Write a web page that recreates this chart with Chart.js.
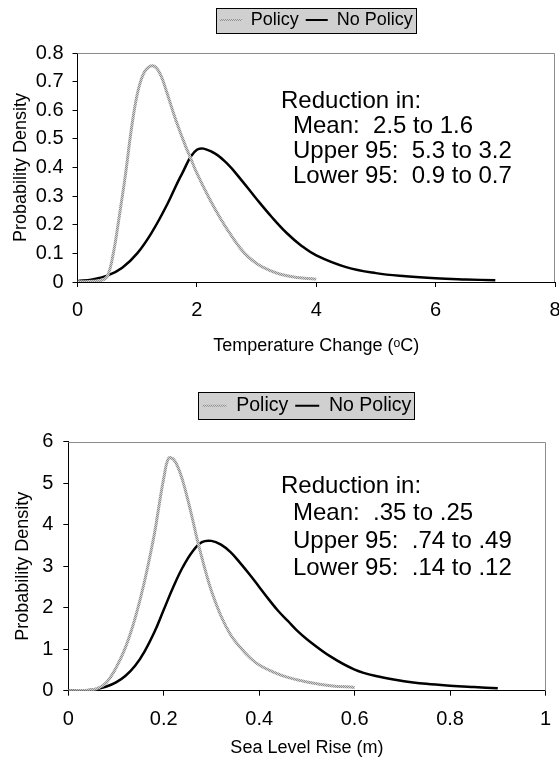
<!DOCTYPE html>
<html>
<head>
<meta charset="utf-8">
<script src="https://cdn.jsdelivr.net/npm/chart.js@4.4.1/dist/chart.umd.min.js"></script>
<style>
  html, body { margin: 0; padding: 0; background: #fff; }
  .wrap { position: relative; width: 559px; }
  #wrap-temp { height: 380px; }
  #wrap-sea { height: 383px; }
</style>
</head>
<body>
<div class="wrap" id="wrap-temp"><canvas id="chart-temp"></canvas></div>
<div class="wrap" id="wrap-sea"><canvas id="chart-sea"></canvas></div>
<script>
// Temperature change (top chart)
const tempPolicyX = [0, 0.2, 0.4, 0.5, 0.6, 0.7, 0.8, 0.9, 1.0, 1.1, 1.2, 1.3, 1.4, 1.5, 1.6, 1.7, 1.8, 1.9, 2.0, 2.2, 2.4, 2.6, 2.8, 3.0, 3.2, 3.4, 3.6, 3.8, 4.0];
const tempPolicyY = [0.001, 0.002, 0.006, 0.02, 0.1, 0.23, 0.37, 0.53, 0.655, 0.725, 0.752, 0.752, 0.72, 0.66, 0.595, 0.535, 0.48, 0.43, 0.38, 0.295, 0.22, 0.155, 0.1, 0.065, 0.042, 0.027, 0.018, 0.013, 0.01];
const tempNoPolicyX = [0, 0.25, 0.5, 0.75, 1.0, 1.25, 1.5, 1.75, 2.0, 2.25, 2.5, 2.75, 3.0, 3.25, 3.5, 3.75, 4.0, 4.5, 5.0, 5.5, 6.0, 6.5, 7.0];
const tempNoPolicyY = [0.003, 0.009, 0.022, 0.05, 0.1, 0.175, 0.27, 0.378, 0.462, 0.455, 0.415, 0.355, 0.29, 0.228, 0.172, 0.127, 0.093, 0.052, 0.031, 0.02, 0.013, 0.009, 0.006];
const tempXTicks = [0, 2, 4, 6, 8];
const tempXLabels = ['0', '2', '4', '6', '8'];
const tempYTicks = [0, 0.1, 0.2, 0.3, 0.4, 0.5, 0.6, 0.7, 0.8];
const tempYLabels = ['0', '0.1', '0.2', '0.3', '0.4', '0.5', '0.6', '0.7', '0.8'];
const tempNotes = ['Reduction in:', 'Mean:  2.5 to 1.6', 'Upper 95:  5.3 to 3.2', 'Lower 95:  0.9 to 0.7'];

// Sea level rise (bottom chart)
const seaPolicyX = [0, 0.02, 0.04, 0.06, 0.08, 0.1, 0.12, 0.14, 0.16, 0.18, 0.19, 0.2, 0.21, 0.22, 0.23, 0.24, 0.25, 0.26, 0.27, 0.28, 0.29, 0.3, 0.32, 0.34, 0.36, 0.38, 0.4, 0.43, 0.46, 0.5, 0.55, 0.6];
const seaPolicyY = [0, 0.003, 0.01, 0.05, 0.2, 0.55, 1.05, 1.75, 2.65, 3.75, 4.45, 5.12, 5.6, 5.58, 5.38, 5.05, 4.62, 4.15, 3.65, 3.2, 2.78, 2.4, 1.8, 1.35, 1.05, 0.8, 0.62, 0.45, 0.32, 0.21, 0.12, 0.08];
const seaNoPolicyX = [0, 0.02, 0.04, 0.06, 0.08, 0.1, 0.12, 0.14, 0.16, 0.18, 0.2, 0.22, 0.24, 0.26, 0.28, 0.3, 0.32, 0.34, 0.36, 0.38, 0.4, 0.42, 0.44, 0.46, 0.48, 0.5, 0.55, 0.6, 0.65, 0.7, 0.75, 0.8, 0.85, 0.9];
const seaNoPolicyY = [0, 0.004, 0.01, 0.04, 0.1, 0.2, 0.36, 0.6, 0.95, 1.4, 1.95, 2.5, 2.98, 3.35, 3.58, 3.61, 3.52, 3.34, 3.08, 2.8, 2.5, 2.2, 1.92, 1.68, 1.44, 1.24, 0.82, 0.51, 0.34, 0.235, 0.165, 0.12, 0.088, 0.06];
const seaXTicks = [0, 0.2, 0.4, 0.6, 0.8, 1];
const seaXLabels = ['0', '0.2', '0.4', '0.6', '0.8', '1'];
const seaYTicks = [0, 1, 2, 3, 4, 5, 6];
const seaYLabels = ['0', '1', '2', '3', '4', '5', '6'];
const seaNotes = ['Reduction in:', 'Mean:  .35 to .25', 'Upper 95:  .74 to .49', 'Lower 95:  .14 to .12'];

const seriesNames = ['Policy', 'No Policy'];

Chart.defaults.font.family = "'Liberation Sans', Arial, sans-serif";
Chart.defaults.color = '#000';

// dotted grey look of the Policy curve
function greyPattern() {
  const c = document.createElement('canvas');
  c.width = 2; c.height = 2;
  const g = c.getContext('2d');
  g.fillStyle = '#d2d2d2';
  g.fillRect(0, 0, 2, 2);
  g.fillStyle = '#909090';
  g.fillRect(0, 0, 1, 1);
  g.fillRect(1, 1, 1, 1);
  return g.createPattern(c, 'repeat');
}

function points(xs, ys) {
  return xs.map((x, i) => ({x: x, y: ys[i]}));
}

// grey top + right edge of the plot area
const frame = {
  id: 'frame',
  beforeDatasetsDraw(chart) {
    const {ctx, chartArea: a} = chart;
    ctx.save();
    ctx.strokeStyle = '#8c8c8c';
    ctx.lineWidth = 1;
    ctx.beginPath();
    ctx.moveTo(a.left, Math.round(a.top) + 0.5);
    ctx.lineTo(Math.round(a.right) - 0.5, Math.round(a.top) + 0.5);
    ctx.lineTo(Math.round(a.right) - 0.5, a.bottom);
    ctx.stroke();
    ctx.restore();
  }
};

// move the legend up, away from the plot
const legendPlace = {
  id: 'legendPlace',
  afterLayout(chart, args, o) {
    const lg = chart.legend;
    lg.top = o.top;
    lg.bottom = o.top + lg.height;
  }
};

// grey box behind the legend
const legendBox = {
  id: 'legendBox',
  beforeDraw(chart, args, o) {
    const hb = chart.legend && chart.legend.legendHitBoxes;
    if (!hb || !hb.length) return;
    const last = hb[hb.length - 1];
    const l = Math.round(hb[0].left - 4) + 0.5;
    const r = Math.round(last.left + last.width + 3) + 0.5;
    const cy = hb[0].top + hb[0].height / 2;
    const t = Math.round(cy - o.height / 2) + 0.5;
    const ctx = chart.ctx;
    ctx.save();
    ctx.fillStyle = '#d0d0d0';
    ctx.fillRect(l, t, r - l, o.height);
    ctx.strokeStyle = '#000';
    ctx.lineWidth = 1;
    ctx.strokeRect(l, t, r - l, o.height);
    ctx.restore();
  }
};

// the "Reduction in:" text block
const notes = {
  id: 'notes',
  afterDraw(chart, args, o) {
    const ctx = chart.ctx;
    ctx.save();
    ctx.font = "24px 'Liberation Sans', Arial, sans-serif";
    ctx.fillStyle = '#000';
    ctx.textBaseline = 'middle';
    o.lines.forEach((s, i) => {
      ctx.fillText(s, i === 0 ? o.x : o.x + o.indent, o.y + i * o.step);
    });
    ctx.restore();
  }
};

function makeChart(id, cfg) {
  const pattern = greyPattern();
  return new Chart(document.getElementById(id), {
    type: 'line',
    data: {
      datasets: [
        {
          label: seriesNames[0],
          data: points(cfg.policyX, cfg.policyY),
          borderColor: pattern,
          backgroundColor: pattern,
          borderWidth: 3,
          pointRadius: 0,
          tension: 0.4
        },
        {
          label: seriesNames[1],
          data: points(cfg.noPolicyX, cfg.noPolicyY),
          borderColor: '#000',
          backgroundColor: '#000',
          borderWidth: 2.5,
          pointRadius: 0,
          tension: 0.4
        }
      ]
    },
    options: {
      responsive: true,
      maintainAspectRatio: false,
      animation: false,
      layout: { padding: 0 },
      scales: {
        x: {
          type: 'linear',
          min: cfg.xTicks[0],
          max: cfg.xTicks[cfg.xTicks.length - 1],
          afterBuildTicks: s => { s.ticks = cfg.xTicks.map(v => ({value: v})); },
          afterFit: s => { s.height = cfg.xHeight; s.paddingRight = cfg.padRight; },
          ticks: {
            autoSkip: false,
            maxRotation: 0,
            padding: cfg.xTickPad,
            font: { size: 20 },
            callback: (v, i) => cfg.xLabels[i]
          },
          grid: { drawOnChartArea: false, drawTicks: true, tickLength: 5, tickColor: '#000' },
          border: { color: '#000', width: 1 },
          title: {
            display: true,
            text: cfg.xTitle,
            font: { size: 18 },
            padding: { top: 0, bottom: cfg.xTitlePad }
          }
        },
        y: {
          type: 'linear',
          min: cfg.yTicks[0],
          max: cfg.yTicks[cfg.yTicks.length - 1],
          afterBuildTicks: s => { s.ticks = cfg.yTicks.map(v => ({value: v})); },
          afterFit: s => { s.width = cfg.yWidth; s.paddingTop = cfg.areaTop; },
          ticks: {
            autoSkip: false,
            padding: cfg.yTickPad,
            font: { size: 20 },
            callback: (v, i) => cfg.yLabels[i]
          },
          grid: { drawOnChartArea: false, drawTicks: true, tickLength: 5, tickColor: '#000' },
          border: { color: '#000', width: 1 },
          title: {
            display: true,
            text: 'Probability Density',
            font: { size: 18 },
            padding: { top: cfg.yTitlePad, bottom: 0 }
          }
        }
      },
      plugins: {
        legend: {
          position: 'top',
          fullSize: false,
          labels: {
            font: { size: cfg.legendFont },
            color: '#000',
            boxWidth: cfg.legendLine,
            boxHeight: 2,
            padding: 7,
            generateLabels: chart => chart.data.datasets.map((ds, i) => ({
              text: ds.label,
              fillStyle: ds.borderColor,
              strokeStyle: ds.borderColor,
              lineWidth: 0,
              hidden: false,
              datasetIndex: i,
              fontColor: '#000'
            }))
          }
        },
        tooltip: { enabled: false },
        legendPlace: { top: cfg.legendTop },
        legendBox: { height: cfg.legendBoxH },
        notes: cfg.notes
      }
    },
    plugins: [legendPlace, legendBox, frame, notes]
  });
}

makeChart('chart-temp', {
  policyX: tempPolicyX, policyY: tempPolicyY,
  noPolicyX: tempNoPolicyX, noPolicyY: tempNoPolicyY,
  xTicks: tempXTicks, xLabels: tempXLabels,
  yTicks: tempYTicks, yLabels: tempYLabels,
  xTitle: 'Temperature Change (\u1D52C)',
  areaTop: 53, yWidth: 77.5, xHeight: 98, padRight: 4,
  xTickPad: 11, yTickPad: 9, xTitlePad: 23, yTitlePad: 10,
  legendTop: 4, legendBoxH: 25, legendFont: 18, legendLine: 22,
  notes: { lines: tempNotes, x: 281, indent: 12, y: 101, step: 25 }
});

makeChart('chart-sea', {
  policyX: seaPolicyX, policyY: seaPolicyY,
  noPolicyX: seaNoPolicyX, noPolicyY: seaNoPolicyY,
  xTicks: seaXTicks, xLabels: seaXLabels,
  yTicks: seaYTicks, yLabels: seaYLabels,
  xTitle: 'Sea Level Rise (m)',
  areaTop: 61.7, yWidth: 68.3, xHeight: 72.3, padRight: 13.5,
  xTickPad: 12, yTickPad: 10, xTitlePad: 4, yTitlePad: 12.5,
  legendTop: 9, legendBoxH: 27, legendFont: 19.5, legendLine: 24,
  notes: { lines: seaNotes, x: 281, indent: 12, y: 106, step: 27.6 }
});
</script>
</body>
</html>
